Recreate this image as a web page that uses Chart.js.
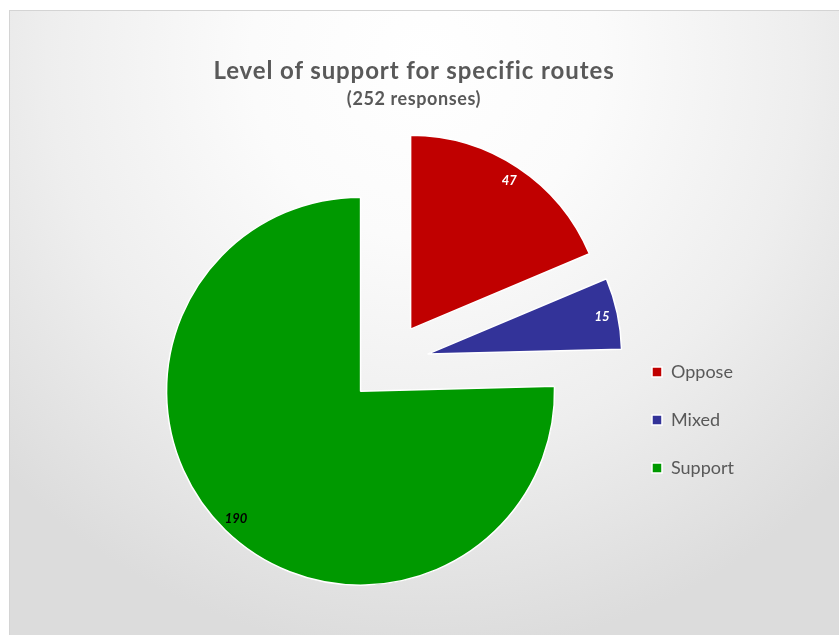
<!DOCTYPE html>
<html>
<head>
<meta charset="utf-8">
<script src="https://cdn.jsdelivr.net/npm/chart.js@4.4.1/dist/chart.umd.min.js"></script>
<style>
  html, body { margin: 0; padding: 0; background: #ffffff; }
  body { width: 839px; height: 635px; position: relative; overflow: hidden; font-family: Lato, "Open Sans", sans-serif; }
  #frame {
    position: absolute; left: 9px; top: 10px; width: 830px; height: 625px;
    border-left: 1px solid #d4d4d4; border-top: 1px solid #d4d4d4;
    background: radial-gradient(ellipse 70% 95% at 50% 8%, #ffffff 0%, #fbfbfb 30%, #eeeeee 65%, #dcdcdc 100%);
  }
  #chart { position: absolute; left: 0; top: 0; }
  .title { position: absolute; left: 0; width: 828px; text-align: center; color: #595959; font-weight: bold; line-height: 1.2; pointer-events: none; }
  #title { top: 56px; font-size: 24px; letter-spacing: 0.9px; }
  #subtitle { top: 88px; font-size: 18px; letter-spacing: 0.6px; }
</style>
</head>
<body>
<div id="frame"></div>
<canvas id="chart" width="839" height="635"></canvas>
<div id="title" class="title">Level of support for specific routes</div>
<div id="subtitle" class="title">(252 responses)</div>
<script>
"use strict";

const categories = ["Oppose", "Mixed", "Support"];
const responseCounts = [47, 15, 190];
const sliceColors = ["#c00000", "#333399", "#009900"];
const labelColors = ["#ffffff", "#ffffff", "#000000"];
const explodeOffsets = [40, 40, 40];

// pushes each slice out along its middle angle (Excel style explosion)
const explodePlugin = {
  id: "explode",
  afterDatasetUpdate(chart, args) {
    args.meta.data.forEach((arc, i) => {
      const mid = (arc.startAngle + arc.endAngle) / 2;
      arc.x += Math.cos(mid) * explodeOffsets[i];
      arc.y += Math.sin(mid) * explodeOffsets[i];
    });
  }
};

// value labels near the outer end of each slice
const valueLabelPlugin = {
  id: "valueLabels",
  afterDatasetsDraw(chart) {
    const ctx = chart.ctx;
    const meta = chart.getDatasetMeta(0);
    ctx.save();
    ctx.font = "italic bold 13px Lato, 'Open Sans', sans-serif";
    ctx.textAlign = "center";
    ctx.textBaseline = "middle";
    meta.data.forEach((arc, i) => {
      const mid = (arc.startAngle + arc.endAngle) / 2;
      const r = arc.outerRadius * 0.92;
      ctx.fillStyle = labelColors[i];
      ctx.fillText(String(responseCounts[i]), arc.x + Math.cos(mid) * r, arc.y + Math.sin(mid) * r);
    });
    ctx.restore();
  }
};

const ctx = document.getElementById("chart").getContext("2d");
new Chart(ctx, {
  type: "pie",
  data: {
    labels: categories,
    datasets: [{
      data: responseCounts,
      backgroundColor: sliceColors,
      borderColor: "#ffffff",
      borderWidth: 1.5,
      radius: 194
    }]
  },
  options: {
    responsive: false,
    animation: false,
    events: [],
    layout: { padding: { top: 120, bottom: 30, left: 155, right: 95 } },
    plugins: {
      tooltip: { enabled: false },
      title: { display: false },
      legend: {
        position: "right",
        align: "center",
        title: { display: true, text: "", font: { size: 10 }, padding: { top: 0, bottom: 103 } },
        labels: {
          boxWidth: 10,
          boxHeight: 10,
          padding: 30,
          color: "#595959",
          font: { family: "Lato, 'Open Sans', sans-serif", size: 18 }
        }
      }
    }
  },
  plugins: [explodePlugin, valueLabelPlugin]
});
</script>
</body>
</html>
